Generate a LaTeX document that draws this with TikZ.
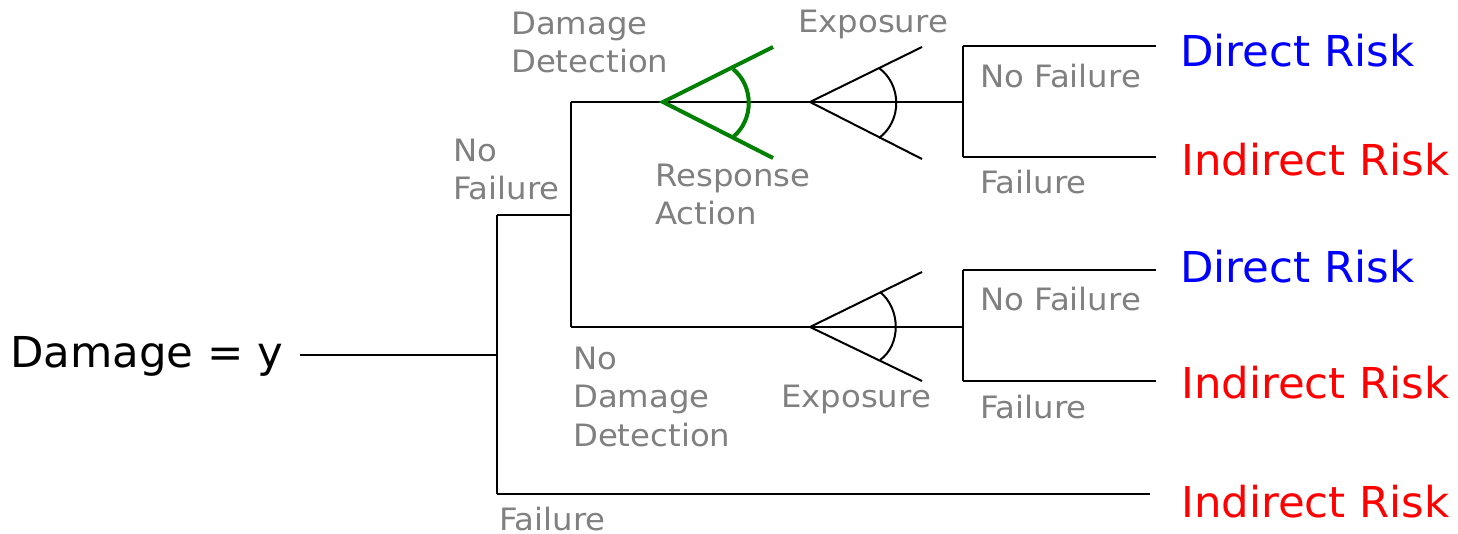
\documentclass[tikz,border=0pt]{standalone}
\usepackage{fontspec}
\setmainfont{DejaVu Sans}
\newfontfamily\lblfont{DejaVu Sans}[FakeStretch=1.05]
\newfontfamily\bigfont{DejaVu Sans}[FakeStretch=1.02]
\definecolor{lblgray}{RGB}{128,128,128}
\definecolor{dblue}{RGB}{0,0,255}
\definecolor{dred}{RGB}{255,0,0}
\definecolor{dgreen}{RGB}{0,128,0}
\tikzset{
  branch/.style={draw=black,line width=2.4pt},
  greenfan/.style={draw=dgreen,line width=4pt},
  blackfan/.style={draw=black,line width=2pt},
  biglabel/.style={anchor=base west,inner sep=0pt,font=\bigfont\fontsize{42.6}{50}\selectfont},
  lbl/.style={anchor=base west,inner sep=0pt,align=left,text=lblgray,font=\lblfont\fontsize{30.8}{38.5}\selectfont}
}
\begin{document}
\begin{tikzpicture}[x=1pt,y=-1pt]
\useasboundingbox (0,0) rectangle (1458,534);
% junction coordinates
\coordinate (r0) at (300,355);
\coordinate (j1) at (497,355);
\coordinate (j1t) at (497,215);
\coordinate (j1b) at (497,494);
\coordinate (j2) at (571,215);
\coordinate (j2t) at (571,102);
\coordinate (j2b) at (571,327);
\coordinate (j3) at (963,102);
\coordinate (j3t) at (963,46);
\coordinate (j3b) at (963,157);
\coordinate (j4) at (963,327);
\coordinate (j4t) at (963,270);
\coordinate (j4b) at (963,381);
\coordinate (e1) at (1156,46);
\coordinate (e2) at (1156,157);
\coordinate (e3) at (1156,270);
\coordinate (e4) at (1156,381);
\coordinate (e5) at (1150,494);
% fans
\coordinate (ga) at (663,102);
\coordinate (gu) at (773,47);
\coordinate (gl) at (773,158);
\coordinate (fa) at (810,102);
\coordinate (fu) at (922,47);
\coordinate (fl) at (922,159);
\coordinate (ha) at (810,327);
\coordinate (hu) at (922,272);
\coordinate (hl) at (922,381);

% tree lines
\draw[branch] (r0) -- (j1);
\draw[branch] (j1t) -- (j1b);
\draw[branch] (j1t) -- (j2);
\draw[branch] (j2t) -- (j2b);
\draw[branch] (j2t) -- (j3);
\draw[branch] (j2b) -- (j4);
\draw[branch] (j3t) -- (j3b);
\draw[branch] (j3t) -- (e1);
\draw[branch] (j3b) -- (e2);
\draw[branch] (j4t) -- (j4b);
\draw[branch] (j4t) -- (e3);
\draw[branch] (j4b) -- (e4);
\draw[branch] (j1b) -- (e5);

% green fan
\draw[greenfan] (gu) -- (ga) -- (gl);
\draw[greenfan] (733,69) .. controls (754,86) and (754,120) .. (733,137);
% black fans
\draw[blackfan] (fu) -- (fa) -- (fl);
\draw[blackfan] (879,68) .. controls (902,85) and (902,121) .. (879,138);
\draw[blackfan] (hu) -- (ha) -- (hl);
\draw[blackfan] (880,292) .. controls (901,309) and (901,345) .. (880,360);

% big labels
\node[biglabel] (dmg) at (10,367) {Damage = y};
\node[biglabel,text=dblue] (dr1) at (1180,67) {Direct Risk};
\node[biglabel,text=dred] (ir1) at (1181,176) {Indirect Risk};
\node[biglabel,text=dblue] (dr2) at (1180,283) {Direct Risk};
\node[biglabel,text=dred] (ir2) at (1181,398) {Indirect Risk};
\node[biglabel,text=dred] (ir3) at (1181,517) {Indirect Risk};

% gray labels (base anchor = baseline of last line)
\node[lbl] (ddet) at (511,73) {Damage\\Detection};
\node[lbl] (nf0) at (453,200) {No\\Failure};
\node[lbl] (resp) at (655,225) {Response\\Action};
\node[lbl] (exp1) at (798,33) {Exposure};
\node[lbl] (nf1) at (980,88) {No Failure};
\node[lbl] (f1) at (980,194) {Failure};
\node[lbl] (nf2) at (980,311) {No Failure};
\node[lbl] (f2) at (980,418) {Failure};
\node[lbl] (nddet) at (573,446) {No\\Damage\\Detection};
\node[lbl] (exp2) at (781,407) {Exposure};
\node[lbl] (f0) at (499,530) {Failure};
\end{tikzpicture}
\end{document}
